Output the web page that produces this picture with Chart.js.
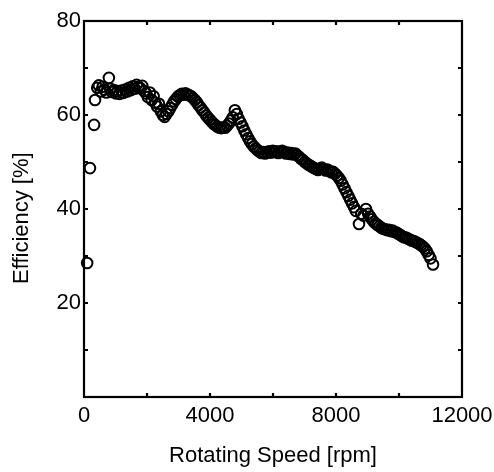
<!DOCTYPE html>
<html>
<head>
<meta charset="utf-8">
<script src="https://cdn.jsdelivr.net/npm/chart.js@4"></script>
<style>
  html, body { margin: 0; padding: 0; background: #fff; }
  #wrap { width: 494px; height: 472px; }
</style>
</head>
<body>
<div id="wrap"><canvas id="effChart" width="494" height="472"></canvas></div>
<script>
/* measured efficiency vs. rotating speed */
const speedRpm = [
  100, 190, 320, 350, 420, 470, 530, 590, 650, 710,
  790, 830, 890, 950, 1010, 1070, 1130, 1190, 1250, 1310,
  1370, 1430, 1490, 1550, 1610, 1670, 1730, 1790, 1850, 1910,
  1970, 2030, 2090, 2150, 2210, 2260, 2320, 2380, 2440, 2500,
  2560, 2620, 2680, 2740, 2800, 2860, 2920, 2980, 3040, 3100,
  3160, 3220, 3280, 3340, 3400, 3460, 3520, 3580, 3640, 3700,
  3760, 3820, 3880, 3940, 4000, 4060, 4120, 4180, 4240, 4300,
  4360, 4420, 4480, 4540, 4600, 4660, 4720, 4790, 4850, 4910,
  4970, 5030, 5090, 5150, 5210, 5270, 5330, 5390, 5450, 5510,
  5570, 5630, 5690, 5750, 5810, 5870, 5930, 5990, 6050, 6110,
  6170, 6230, 6290, 6350, 6410, 6470, 6530, 6590, 6650, 6710,
  6770, 6830, 6890, 6950, 7010, 7070, 7130, 7190, 7250, 7310,
  7370, 7430, 7490, 7550, 7610, 7670, 7730, 7790, 7850, 7910,
  7970, 8030, 8090, 8150, 8210, 8270, 8330, 8390, 8450, 8510,
  8570, 8630, 8730, 8800, 8870, 8950, 9020, 9080, 9140, 9200,
  9260, 9320, 9380, 9440, 9500, 9560, 9620, 9680, 9740, 9800,
  9860, 9920, 9980, 10040, 10100, 10160, 10220, 10280, 10340, 10400,
  10460, 10520, 10580, 10640, 10700, 10760, 10820, 10880, 10940, 11000,
  11080
];
const efficiencyPct = [
  28.5, 48.7, 57.9, 63.2, 65.8, 66.3, 65.0, 66.0, 65.4, 64.8,
  67.9, 65.6, 64.9, 65.3, 64.6, 65.1, 64.5, 65.2, 64.7, 65.4,
  65.0, 65.8, 65.3, 66.1, 65.6, 66.4, 66.0, 65.7, 66.2, 65.1,
  64.6, 63.8, 64.8, 63.2, 64.0, 62.6, 61.8, 62.4, 60.8, 60.0,
  59.6, 60.2, 60.8, 61.5, 62.2, 62.9, 63.4, 63.9, 64.2, 64.5,
  64.3, 64.6, 64.4, 64.2, 64.0, 63.6, 63.2, 62.7, 62.1, 61.6,
  61.0, 60.5, 59.9, 59.4, 59.0, 58.5, 58.1, 57.8, 57.5, 57.3,
  57.2, 57.4, 57.3, 57.7, 58.2, 58.8, 59.5, 61.0, 60.2, 59.2,
  58.4, 57.6, 56.7, 55.9, 55.1, 54.4, 53.8, 53.3, 52.9, 52.5,
  52.2, 51.9, 52.1, 51.8, 52.0, 52.3, 52.0, 52.4, 52.1, 52.3,
  51.9, 52.2, 52.4, 52.1, 51.8, 52.0, 51.7, 51.9, 51.6, 51.8,
  51.4, 51.1, 50.7, 50.4, 50.0, 49.7, 49.4, 49.2, 48.9, 48.7,
  48.5, 48.3, 48.6, 48.8, 48.5, 48.2, 48.4, 48.1, 47.8, 47.9,
  47.5, 47.1, 46.6, 46.0, 45.2, 44.4, 43.6, 42.8, 42.0, 41.2,
  40.4, 39.6, 36.8, 39.0, 38.6, 40.0, 39.0, 38.4, 37.8, 37.3,
  36.9, 36.6, 36.3, 36.0, 35.8, 35.7, 35.5, 35.6, 35.3, 35.4,
  35.1, 35.0, 34.7, 34.5, 34.2, 34.0, 33.9, 33.7, 33.5, 33.3,
  33.2, 33.0, 32.8, 32.6, 32.3, 32.0, 31.6, 31.0, 30.2, 29.5,
  28.2
];

/* axes */
const xLabelTicks = [0, 4000, 8000, 12000];
const yLabelTicks = [20, 40, 60, 80];
const xTickMarks = [2000, 4000, 6000, 8000, 10000];
const yTickMarks = [10, 20, 30, 40, 50, 60, 70];
const xTitle = 'Rotating Speed [rpm]';
const yTitle = 'Efficiency [%]\u00a0\u00a0\u00a0';   // trailing spaces nudge it below centre

const FONT = { family: '"Liberation Sans", Arial, sans-serif', size: 22 };

const points = speedRpm.map((s, i) => ({ x: s, y: efficiencyPct[i] }));

// box around the plot + small inward ticks on all four sides
const frameTicks = {
  id: 'frameTicks',
  afterDatasetsDraw(chart) {
    const { ctx, chartArea: a, scales: { x, y } } = chart;
    ctx.save();
    ctx.strokeStyle = '#000';
    ctx.lineWidth = 2.2;
    ctx.strokeRect(a.left, a.top, a.right - a.left, a.bottom - a.top);
    ctx.beginPath();
    xTickMarks.forEach(v => {
      const px = x.getPixelForValue(v);
      ctx.moveTo(px, a.bottom); ctx.lineTo(px, a.bottom - 4);
      ctx.moveTo(px, a.top); ctx.lineTo(px, a.top + 4);
    });
    yTickMarks.forEach(v => {
      const py = y.getPixelForValue(v);
      ctx.moveTo(a.left, py); ctx.lineTo(a.left + 4, py);
      ctx.moveTo(a.right, py); ctx.lineTo(a.right - 4, py);
    });
    ctx.stroke();
    ctx.restore();
  }
};

new Chart(document.getElementById('effChart'), {
  type: 'scatter',
  data: {
    datasets: [{
      data: points,
      pointStyle: 'circle',
      pointRadius: 5.3,
      pointBorderWidth: 2,
      pointBorderColor: '#000',
      pointBackgroundColor: 'rgba(255,255,255,0)',
      clip: false
    }]
  },
  options: {
    responsive: false,
    animation: false,
    layout: { padding: { left: 0, right: 32, top: 21, bottom: 0 } },
    plugins: { legend: { display: false }, tooltip: { enabled: false } },
    scales: {
      x: {
        type: 'linear', min: 0, max: 12000,
        afterBuildTicks: s => { s.ticks = xLabelTicks.map(v => ({ value: v })); },
        // "12000" may run off the right edge, don't shrink the plot for it
        afterFit: s => { s.height = 75; s.paddingLeft = 0; s.paddingRight = 0; },
        grid: { display: false, drawTicks: false },
        border: { display: false },
        ticks: { color: '#000', font: FONT, padding: 6, maxRotation: 0, callback: v => String(v) },
        title: { display: true, text: xTitle, color: '#000', font: FONT, padding: { top: 0, bottom: 3 } }
      },
      y: {
        type: 'linear', min: 0, max: 80,
        afterBuildTicks: s => { s.ticks = yLabelTicks.map(v => ({ value: v })); },
        afterFit: s => { s.width = 84; },
        grid: { display: false, drawTicks: false },
        border: { display: false },
        ticks: { color: '#000', font: FONT, padding: 3, callback: v => String(v) },
        title: { display: true, text: yTitle, color: '#000', font: FONT, padding: { top: 9, bottom: 0 } }
      }
    }
  },
  plugins: [frameTicks]
});
</script>
</body>
</html>
